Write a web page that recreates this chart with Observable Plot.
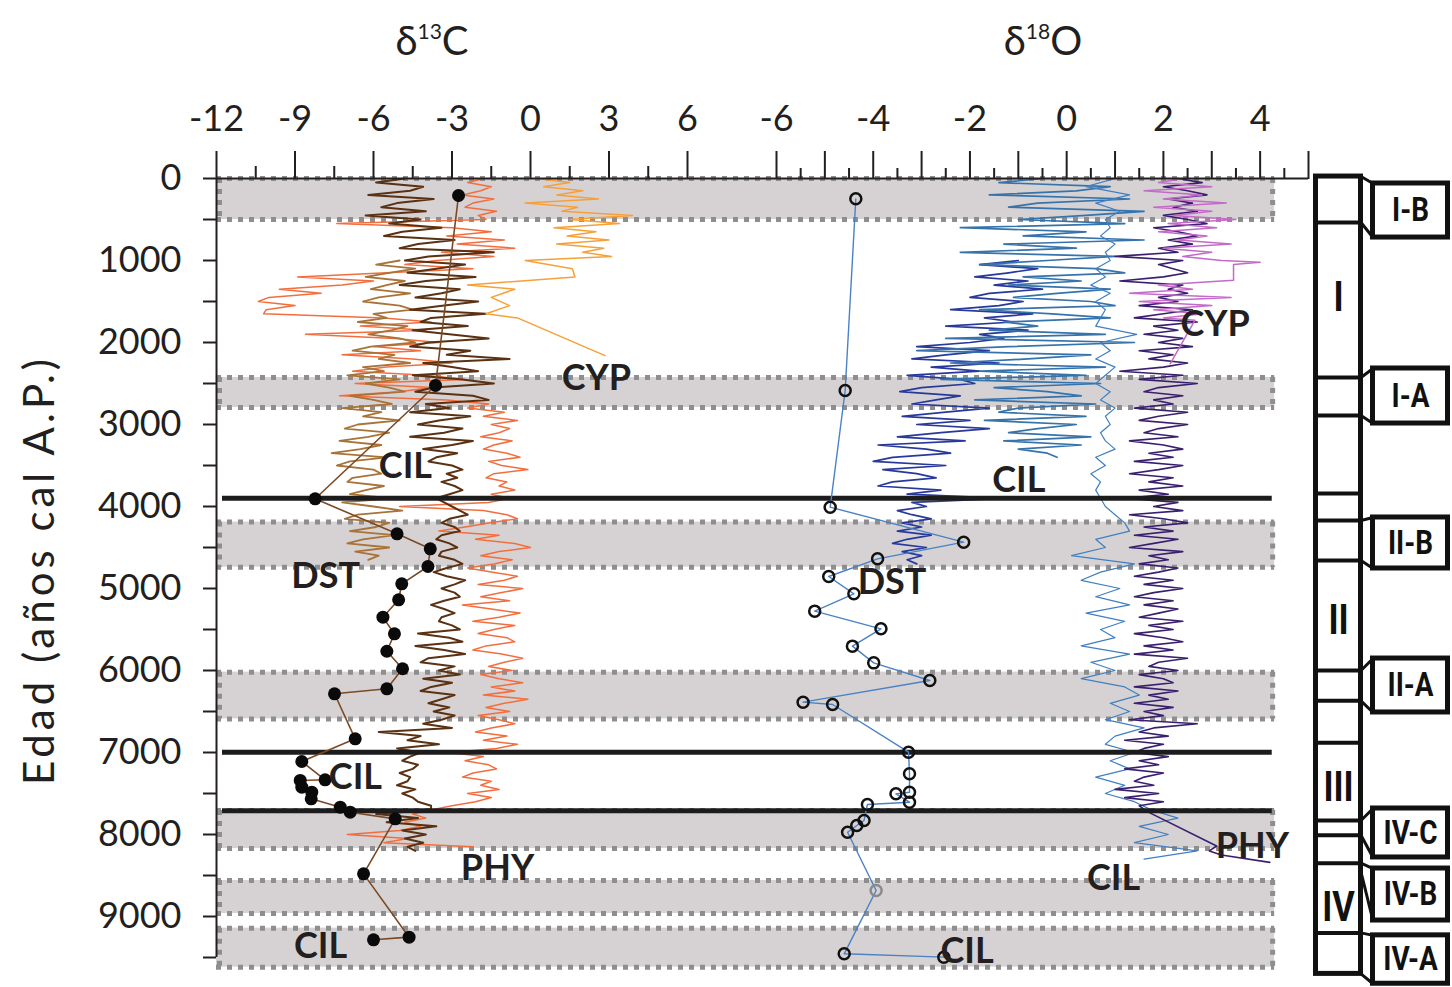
<!DOCTYPE html>
<html><head><meta charset="utf-8">
<script src="https://cdn.jsdelivr.net/npm/d3@7"></script>
<script src="https://cdn.jsdelivr.net/npm/@observablehq/plot@0.6"></script>
<style>
body{margin:0;background:#fff;}
#wrap{position:relative;width:1452px;height:987px;overflow:hidden;font-family:Lato,"Open Sans","DejaVu Sans",sans-serif;color:#231f20;}
.p{position:absolute;top:0;}
.title{position:absolute;top:20px;font-size:40px;line-height:1;transform:translateX(-50%);white-space:nowrap;}
.title sup{font-size:21px;vertical-align:0;position:relative;top:-16px;}
#ylab{position:absolute;left:38px;top:570px;transform:translate(-50%,-50%) rotate(-90deg);font-size:42px;line-height:1;white-space:nowrap;letter-spacing:4px;}
</style></head>
<body><div id="wrap">
<div class="title" style="left:432px">δ<sup>13</sup>C</div>
<div class="title" style="left:1043px">δ<sup>18</sup>O</div>
<div id="ylab">Edad (años cal A.P.)</div>
<div id="pa" class="p" style="left:0"></div>
<div id="pb" class="p" style="left:776px"></div>
<div id="pc" class="p" style="left:1300px"></div>
</div>
<script>
const FONT = "Lato, 'Open Sans', 'DejaVu Sans', sans-serif";
const INK = "#231f20";

// ---------- axes ----------
const ageDomain = [0, 9500];
const ageTicks = [0,500,1000,1500,2000,2500,3000,3500,4000,4500,5000,5500,6000,6500,7000,7500,8000,8500,9000,9500];
const c13Domain = [-12, 6];
const c13Major = [-12, -9, -6, -3, 0, 3, 6];
const c13Minor = [-10.5, -7.5, -4.5, -1.5, 1.5, 4.5];
const o18Domain = [-6, 5];
const o18Major = [-6, -5, -4, -3, -2, -1, 0, 1, 2, 3, 4, 5];
const o18Labeled = [-6, -4, -2, 0, 2, 4];
const o18Minor = [-5.5, -4.5, -3.5, -2.5, -1.5, -0.5, 0.5, 1.5, 2.5, 3.5, 4.5];

// ---------- grey bands & boundaries (ages) ----------
const bandTop = [0, 2427, 4190, 6020, 7707, 8561, 9142];
const bandBottom = [500, 2793, 4740, 6590, 8171, 8963, 9618];
const boundaryAges = [3900, 6996, 7710];
const bandEndO18 = 4.3;

// ---------- δ13C series ----------
// dark brown record, every 50 yr from 0
const brownC = [
 -4.8,-5.9,-4.1,-4.6,-6.2,-3.7,-5.1,-5.7,-4.0,-6.3,
 -4.2,-5.4,-3.4,-4.9,-5.6,-2.9,-4.3,-5.0,-1.4,-3.9,
 -4.8,-2.5,-3.6,-4.7,-2.1,-4.0,-5.0,-2.7,-3.4,-4.4,
 -2.0,-3.3,-4.6,-1.7,-3.8,-4.2,-2.4,-4.5,-3.1,-1.6,
 -3.9,-4.6,-2.3,-3.2,-0.8,-4.1,-3.0,-2.0,-4.5,-2.6,
 -1.4,-3.7,-4.4,-2.2,-1.6,-4.0,-3.1,-4.6,-2.3,-3.5,
 -4.3,-2.6,-3.3,-4.6,-2.2,-3.0,-4.1,-2.8,-3.6,-3.9,
 -3.0,-2.6,-3.2,-2.8,-3.4,-2.9,-2.6,-3.1,-3.6,-3.3,
 -3.0,-2.7,-2.4,-3.1,-3.4,-2.9,-2.7,-3.4,-3.6,-3.1,
 -2.8,-3.4,-3.5,-2.9,-2.6,-3.2,-3.7,-3.2,-2.5,-2.9,
 -3.4,-2.9,-2.7,-3.3,-3.8,-3.3,-2.9,-3.4,-3.5,-3.0,
 -2.7,-4.3,-3.1,-2.6,-4.4,-3.3,-2.5,-3.9,-4.2,-2.9,
 -3.5,-2.7,-4.1,-3.0,-3.8,-4.2,-2.9,-3.4,-3.9,-3.1,
 -3.7,-2.9,-3.4,-4.1,-3.0,-5.8,-4.2,-4.7,-3.5,-5.1,
 -4.2,-4.6,-4.9,-4.3,-4.5,-5.0,-4.6,-4.7,-5.1,-4.4,
 -4.9,-4.5,-4.3,-3.8,-3.8,-5.9,-4.3,-5.5,-3.6,-4.9,
 -4.0,-4.8,-4.1,-4.7,-4.4
];
// orange-red record, every 50 yr from 0
const orangeC = [
 -1.8,-2.4,-1.5,-1.9,-2.6,-1.4,-2.2,-2.5,-1.3,-2.0,
 -1.7,-7.4,-3.0,-1.5,-3.2,-1.0,-2.8,-0.6,-3.4,-1.4,
 -3.6,-4.8,-2.2,-5.5,-8.9,-6.0,-7.2,-9.6,-8.0,-10.0,
 -10.4,-9.0,-10.1,-10.2,-5.6,-3.8,-6.5,-4.0,-8.6,-5.2,
 -3.5,-6.0,-4.2,-7.2,-4.5,-3.0,-5.5,-6.8,-4.0,-2.5,
 -6.7,-3.8,-5.0,-7.3,-3.2,-1.6,-2.4,-1.0,-1.8,-0.5,
 -1.5,-0.8,-1.2,-1.9,-0.7,-1.4,-1.8,-0.9,-0.4,-1.6,
 -1.1,-0.1,-1.4,-1.7,-0.9,-1.2,-0.6,-1.5,-0.8,-1.6,
 -5.0,-1.8,-0.9,-0.5,-1.6,-2.5,-3.5,-1.2,-2.1,-0.6,
 0.0,-1.2,-1.9,-0.7,-1.4,-2.4,-1.5,-0.5,-1.0,-2.0,
 -0.3,-1.1,-1.9,-0.8,-2.6,-1.5,-0.4,-1.2,-2.2,-0.6,
 -1.4,-2.0,-0.9,-0.6,-1.7,-2.2,-1.1,-0.3,-1.0,-1.6,
 -0.7,-1.9,-1.2,-0.3,-1.5,-0.6,-1.8,-0.1,-1.0,-1.7,
 -0.8,-2.0,-1.2,-0.6,-1.5,-2.1,-0.9,-1.8,-0.5,-1.3,
 -3.1,-1.8,-2.5,-1.6,-1.3,-2.2,-2.6,-1.5,-1.9,-1.2,
 -2.4,-1.5,-2.1,-3.0,-3.8,-4.5,-4.0,-4.8,-4.2,-5.0,
 -7.0,-4.7,-5.6,-2.2
];
// tan record, every 50 yr from 1000
const tanC = [
 -5.0,-5.9,-4.4,-5.4,-6.3,-4.8,-5.5,-6.1,-4.6,-5.8,
 -6.4,-5.0,-4.5,-6.0,-5.5,-6.6,-4.7,-5.3,-6.2,-5.0,
 -4.4,-6.1,-6.8,-5.2,-5.8,-4.6,-6.4,-5.6,-7.0,-5.0,
 -6.3,-5.4,-4.8,-6.9,-6.0,-5.3,-7.2,-5.7,-6.4,-5.0,
 -6.6,-7.1,-5.4,-6.2,-7.3,-5.7,-6.5,-7.6,-5.5,-6.9,
 -7.4,-6.0,-5.7,-6.8,-7.0,-5.6,-6.3,-6.9,-5.3,-7.2,
 -6.0,-4.9,-6.6,-7.1,-5.4,-5.9,-6.9,-5.2,-6.4,-7.0,
 -5.4,-6.7,-5.8,-6.2
];
// CYP δ13C (age, value)
const cypC = [[0,0.2],[50,1.5],[100,0.5],[150,2.0],[200,1.0],[250,2.6],[300,-0.2],[350,1.8],[400,1.2],[450,3.9],
 [500,1.5],[550,3.4],[600,0.9],[650,2.5],[700,1.4],[750,3.0],[800,1.0],[850,2.8],[900,2.0],[950,3.1],
 [1000,-0.2],[1100,1.6],[1200,1.7],[1300,-2.4],[1350,-0.6],[1450,-1.5],[1550,-0.8],[1650,-1.7],[1700,-0.5],[2160,2.85]];
// DST δ13C points (age, value)
const dstC = [[207,-2.75],[2524,-3.63],[3906,-8.23],[4333,-5.1],[4516,-3.83],[4732,-3.92],[4943,-4.92],[5138,-5.04],
 [5350,-5.64],[5553,-5.2],[5765,-5.49],[5979,-4.89],[6223,-5.49],[6284,-7.49],[6833,-6.7],[7110,-8.74],[7333,-7.85],
 [7341,-8.8],[7423,-8.74],[7484,-8.36],[7565,-8.38],[7667,-7.27],[7728,-6.89],[7809,-5.17],[8480,-6.38],[9252,-4.64],[9284,-6.0]];

// ---------- δ18O series ----------
// steel-blue record, every 50 yr from 0
const steelO = [
 -0.5,-1.4,0.9,0.2,-1.6,1.3,-0.6,-1.2,1.6,0.4,
 -1.0,1.2,-2.2,0.4,-0.9,1.6,-1.3,0.2,-2.2,1.0,
 -0.4,-1.8,0.6,1.2,-0.9,0.3,-1.2,0.9,-0.2,-1.1,
 0.5,1.0,-1.8,-0.3,0.9,-1.3,-0.6,-1.6,0.8,-2.5,
 1.4,-1.2,-3.1,0.5,-0.8,-2.4,0.8,-1.8,0.4,-2.6,
 0.7,-1.5,-0.4,0.3,-1.9,0.6,-1.0,-1.4,0.4,-1.7,
 0.2,-0.6,-1.2,0.5,-1.3,0.3,-1.0,-0.4,-0.2
];
// navy record, every 50 yr from 1000
const navyO = [
 -1.0,-1.8,-0.6,-1.2,-1.9,-0.8,-1.5,-0.5,-1.6,-2.0,
 -0.9,-1.4,-2.4,-0.7,-1.7,-1.1,-2.5,-0.8,-1.8,-1.3,
 -2.0,-3.1,-1.6,-2.5,-3.2,-1.4,-2.8,-1.8,-3.3,-2.2,
 -1.9,-3.0,-3.45,-2.2,-2.7,-3.2,-1.6,-2.5,-3.4,-2.0,
 -3.1,-1.6,-2.6,-3.5,-2.1,-3.9,-2.9,-2.4,-3.6,-4.0,
 -2.5,-3.8,-3.1,-2.7,-3.6,-3.9,-2.6,-3.3,-1.3,-3.2,
 -2.9,-3.5,-3.2,-2.8,-3.4,-3.0,-3.5,-2.8,-3.3,-3.6,
 -2.9,-3.4,-3.0,-3.3,-3.1
];
// thin blue record, every 100 yr from 0
const thinO = [
 1.0,0.4,1.3,0.6,1.1,0.8,0.9,0.7,1.0,0.8,
 0.9,0.6,0.8,0.5,0.9,0.6,0.8,0.7,0.6,1.45,
 0.7,0.9,0.6,1.0,0.8,0.6,0.9,0.7,1.0,0.8,
 0.9,0.7,0.8,1.0,0.6,0.8,0.5,0.7,0.6,0.7,
 0.8,1.0,1.2,1.3,0.6,0.8,0.1,1.4,0.7,0.3,
 1.1,0.6,1.3,0.4,1.2,0.7,1.0,0.3,1.3,0.5,
 1.0,0.3,1.2,1.5,0.9,1.3,0.8,1.6,1.0,0.8,
 1.4,0.9,1.3,0.6,1.2,0.8,1.4,1.75,2.3,1.5,
 2.1,1.4,2.7,1.6
];
// CYP δ18O (age, value)
const magO = [[0,2.4],[50,1.9],[100,3.0],[150,1.6],[200,2.8],[250,2.0],[300,3.3],[350,1.8],[400,3.0],[450,2.2],
 [500,3.5],[550,2.1],[600,3.1],[650,1.9],[700,2.9],[750,2.3],[800,3.4],[850,2.0],[900,3.0],[950,2.4],
 [1000,3.2],[1020,4.0],[1050,3.45],[1240,3.45],[1300,1.9],[1350,2.6],[1400,1.3],[1450,3.4],[1500,1.5],
 [1550,3.0],[1600,1.8],[1650,2.8],[1700,2.0],[1730,2.65],[2260,2.14]];
// PHY δ18O, every 50 yr from 0, then sparse tail (age, value)
const purpleO = [
 2.3,2.8,2.0,2.5,2.9,2.1,2.6,2.2,2.7,2.0,
 2.5,2.9,1.8,2.3,2.7,2.1,2.6,1.9,2.3,1.0,
 2.4,1.9,2.2,2.5,2.0,1.1,2.4,2.1,2.5,1.9,
 2.3,1.5,2.6,2.0,1.4,2.7,1.8,2.3,1.6,2.4,
 1.9,2.6,1.5,2.2,1.7,2.5,2.0,1.1,2.4,1.5,
 2.7,1.9,1.6,2.4,1.8,2.2,1.4,2.5,1.9,1.5,
 2.5,1.9,1.6,2.3,1.3,2.0,2.4,1.7,2.2,1.4,
 2.4,1.9,1.3,2.2,1.7,2.4,1.5,2.1,1.2,2.3,
 1.8,2.4,1.3,2.0,2.5,1.6,2.2,1.4,2.3,1.8,
 1.3,2.4,1.7,2.1,1.5,2.3,1.9,1.4,2.2,1.6,
 2.4,1.8,1.4,2.2,1.6,2.3,1.9,1.5,2.4,1.7,
 2.2,1.4,2.0,2.4,1.6,2.2,1.4,2.5,1.9,1.7,
 2.3,1.5,2.0,2.2,1.4,2.3,1.7,2.1,1.4,2.2,
 1.6,2.0,1.3,2.7,1.8,1.5,2.1,1.2,2.0,1.6,
 1.4,2.1,1.5,1.9,1.2,2.0,1.6,1.4,1.8,1.0,
 1.9,1.2,2.0,1.5
];
const purpleTail = [[7730,1.7],[8140,3.1],[8200,2.95],[8250,3.2],[8340,4.2]];
// DST δ18O points (age, value)
const dstO = [[248,-4.36],[2585,-4.58],[4008,-4.89],[4435,-2.13],[4638,-3.91],[4854,-4.92],[5065,-4.4],[5276,-5.21],
 [5492,-3.84],[5703,-4.43],[5907,-3.99],[6122,-2.83],[6386,-5.45],[6415,-4.84],[6996,-3.27],[7260,-3.25],[7484,-3.25],
 [7504,-3.53],[7606,-3.25],[7634,-4.12],[7829,-4.19],[7890,-4.34],[7972,-4.53],[8683,-3.94],[9455,-4.6],[9496,-2.54]];
const dstOFaintAge = 8683;

// ---------- record labels ----------
const c13Labels = [
 {text:"CYP", v:2.52, age:2439}, {text:"CIL", v:-4.78, age:3512}, {text:"DST", v:-7.83, age:4854},
 {text:"CIL", v:-6.69, age:7305}, {text:"PHY", v:-1.26, age:8415}, {text:"CIL", v:-8.02, age:9366}];
const o18Labels = [
 {text:"CYP", v:3.07, age:1780}, {text:"CIL", v:-0.99, age:3683}, {text:"DST", v:-3.61, age:4927},
 {text:"PHY", v:3.84, age:8146}, {text:"CIL", v:0.97, age:8537}, {text:"CIL", v:-2.06, age:9427}];

// ---------- zone column ----------
const zoneBounds = [537, 2427, 2890, 3840, 4170, 4660, 6000, 6370, 6880, 7830, 8010, 8350, 9200];
const columnSpan = {top: -24, bottom: 9700};
const zoneNames = [{text:"I", age:1451},{text:"II", age:5390},{text:"III", age:7427},{text:"IV", age:8890}];
const subzones = [
 {text:"I-B", top:-24, bottom:537, boxTop:61, boxBottom:720},
 {text:"I-A", top:2427, bottom:2890, boxTop:2317, boxBottom:2988},
 {text:"II-B", top:4170, bottom:4660, boxTop:4134, boxBottom:4756},
 {text:"II-A", top:6000, bottom:6370, boxTop:5854, boxBottom:6512},
 {text:"IV-C", top:7830, bottom:8010, boxTop:7683, boxBottom:8280},
 {text:"IV-B", top:8350, bottom:8460, boxTop:8415, boxBottom:9049},
 {text:"IV-A", top:9200, bottom:9700, boxTop:9230, boxBottom:9820}];

// ---------- helpers ----------
const grid = (start, step, vals) => vals.map((v, i) => ({age: start + i * step, v}));
const pairs = arr => arr.map(([age, v]) => ({age, v}));
const bands = bandTop.map((t, i) => ({top: t, bottom: bandBottom[i]}));
const bandEdges = bandTop.concat(bandBottom);

const BAND = "#d6d2d3", DOT = "#8e8e8e", RULE = "#1c1c1c";
const dotted = {stroke: DOT, strokeWidth: 5, strokeDasharray: "5,6"};
const base = {height: 987, marginTop: 178, marginBottom: 30};
const style = {fontFamily: FONT, fontSize: "36px", color: INK, background: "transparent", overflow: "visible"};
const lw = 1.5;
const yOpt = {domain: ageDomain, reverse: true};

// ---------- left panel: δ13C ----------
const A = Plot.plot({
  ...base, width: 776, marginLeft: 216, marginRight: 0, style,
  x: {domain: c13Domain, range: [216, 687]},
  y: yOpt,
  marks: [
    Plot.rect(bands, {y1: "top", y2: "bottom", fill: BAND}),
    Plot.ruleY(bandEdges, {y: d => d, ...dotted}),
    Plot.ruleX(bands, {x: c13Domain[0], y1: "top", y2: "bottom", ...dotted, dx: 3}),
    Plot.line(grid(0, 50, orangeC), {x: "v", y: "age", stroke: "#f36e3e", strokeWidth: lw}),
    Plot.line(grid(1000, 50, tanC), {x: "v", y: "age", stroke: "#a87338", strokeWidth: 1.8}),
    Plot.line(grid(0, 50, brownC), {x: "v", y: "age", stroke: "#5a3112", strokeWidth: 2}),
    Plot.line(pairs(cypC), {x: "v", y: "age", stroke: "#f6a03a", strokeWidth: lw}),
    Plot.ruleY(boundaryAges, {y: d => d, stroke: RULE, strokeWidth: 5, insetLeft: 6}),
    Plot.line(pairs(dstC), {x: "v", y: "age", stroke: "#7b4a24", strokeWidth: 1.6}),
    Plot.dot(pairs(dstC), {x: "v", y: "age", r: 6.5, fill: "#0a0a0a"}),
    Plot.text(c13Labels, {x: "v", y: "age", text: "text", fontSize: 36, fontWeight: 700, fill: INK}),
    Plot.ruleY([ageDomain[0]], {stroke: INK, strokeWidth: 2}),
    Plot.ruleX([c13Domain[0]], {y1: ageDomain[0], y2: ageDomain[1], stroke: INK, strokeWidth: 2}),
    Plot.axisX({anchor: "top", ticks: c13Major, tickSize: 28, tickPadding: 20, strokeWidth: 2, fontSize: 36, label: null, tickFormat: d => String(d)}),
    Plot.axisX({anchor: "top", ticks: c13Minor, tickSize: 13, strokeWidth: 2, label: null, tickFormat: () => ""}),
    Plot.axisY({anchor: "left", ticks: ageTicks, tickSize: 13, tickPadding: 22, strokeWidth: 2, fontSize: 36, label: null, tickFormat: d => d % 1000 === 0 ? String(d) : ""})
  ]
});
document.getElementById("pa").append(A);

// ---------- right panel: δ18O ----------
const B = Plot.plot({
  ...base, width: 676, marginLeft: 0, marginRight: 144, style,
  x: {domain: o18Domain},
  y: {...yOpt, axis: null},
  marks: [
    Plot.rect(bands, {x1: o18Domain[0], x2: bandEndO18, y1: "top", y2: "bottom", fill: BAND}),
    Plot.ruleY(bandEdges, {y: d => d, x1: o18Domain[0], x2: bandEndO18, ...dotted}),
    Plot.ruleX(bands, {x: bandEndO18, y1: "top", y2: "bottom", ...dotted, dx: -2}),
    Plot.line(grid(1000, 50, navyO), {x: "v", y: "age", stroke: "#28399b", strokeWidth: 1.7}),
    Plot.line(grid(0, 50, steelO), {x: "v", y: "age", stroke: "#3673ab", strokeWidth: 1.7}),
    Plot.line(grid(0, 100, thinO), {x: "v", y: "age", stroke: "#3f7fc2", strokeWidth: 1.2}),
    Plot.line(grid(0, 50, purpleO).concat(pairs(purpleTail)), {x: "v", y: "age", stroke: "#3a1f6e", strokeWidth: 1.6}),
    Plot.line(pairs(magO), {x: "v", y: "age", stroke: "#c46ac8", strokeWidth: lw}),
    Plot.ruleY(boundaryAges, {y: d => d, x1: o18Domain[0], x2: 4.25, stroke: RULE, strokeWidth: 5}),
    Plot.line(pairs(dstO), {x: "v", y: "age", stroke: "#4a82c4", strokeWidth: 1.4}),
    Plot.dot(pairs(dstO), {x: "v", y: "age", r: 5.5, stroke: d => d.age === dstOFaintAge ? "#8a8a8a" : "#111", strokeWidth: 2.5, fill: "none"}),
    Plot.text(o18Labels, {x: "v", y: "age", text: "text", fontSize: 36, fontWeight: 700, fill: INK}),
    Plot.ruleY([ageDomain[0]], {stroke: INK, strokeWidth: 2}),
    Plot.axisX({anchor: "top", ticks: o18Major, tickSize: 28, tickPadding: 20, strokeWidth: 2, fontSize: 36, label: null, tickFormat: d => o18Labeled.includes(d) ? String(d) : ""}),
    Plot.axisX({anchor: "top", ticks: o18Minor, tickSize: 11, strokeWidth: 2, label: null, tickFormat: () => ""})
  ]
});
document.getElementById("pb").append(B);

// ---------- zone column ----------
const col = {x1: 15.5, x2: 60.5, mid: 38, boxX1: 72.5, boxX2: 147.5, boxMid: 110};
const C = Plot.plot({
  ...base, width: 152, marginLeft: 0, marginRight: 0,
  style: {...style, fontFamily: "Roboto, Lato, sans-serif"},
  x: {domain: [0, 152], range: [0, 152], axis: null},
  y: {...yOpt, axis: null},
  marks: [
    Plot.rect([columnSpan], {x1: col.x1, x2: col.x2, y1: "top", y2: "bottom", fill: "white", stroke: "#111", strokeWidth: 5}),
    Plot.ruleY(zoneBounds, {y: d => d, x1: col.x1, x2: col.x2, stroke: "#111", strokeWidth: 4}),
    Plot.link(subzones, {x1: col.x2, y1: "top", x2: col.boxX1, y2: "boxTop", stroke: "#111", strokeWidth: 3}),
    Plot.link(subzones, {x1: col.x2, y1: "bottom", x2: col.boxX1, y2: "boxBottom", stroke: "#111", strokeWidth: 3}),
    Plot.rect(subzones, {x1: col.boxX1, x2: col.boxX2, y1: "boxTop", y2: "boxBottom", fill: "white", stroke: "#111", strokeWidth: 5}),
    Plot.text(subzones, {x: col.boxMid, y: d => (d.boxTop + d.boxBottom) / 2, text: "text", fontSize: 34, fontWeight: 700, fill: "#111"}),
    Plot.text(zoneNames, {x: col.mid, y: "age", text: "text", fontSize: 42, fontWeight: 700, fill: "#111"})
  ]
});
document.getElementById("pc").append(C);
C.querySelectorAll("text").forEach(t => {
  const w = t.getComputedTextLength();
  if (w > 0) { t.setAttribute("textLength", (w * 0.82).toFixed(1)); t.setAttribute("lengthAdjust", "spacingAndGlyphs"); }
});
</script>
</body></html>
